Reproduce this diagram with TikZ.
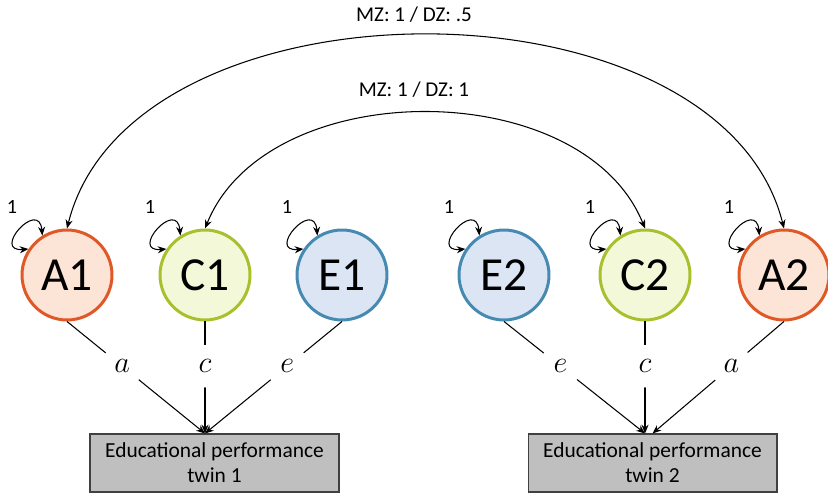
\documentclass[tikz,border=0pt]{standalone}
\usepackage{fontspec}
\setmainfont{Carlito}
\usetikzlibrary{arrows.meta}
\definecolor{aline}{RGB}{224,88,38}
\definecolor{afill}{RGB}{252,228,214}
\definecolor{cline}{RGB}{166,193,45}
\definecolor{cfill}{RGB}{243,248,216}
\definecolor{eline}{RGB}{70,138,178}
\definecolor{efill}{RGB}{219,229,244}
\definecolor{boxfill}{RGB}{191,191,191}
\begin{document}
\begin{tikzpicture}[x=0.02cm, y=0.02cm,
    latent/.style={circle, line width=1.7pt, minimum size=1.8cm, inner sep=0pt, font=\fontsize{27}{27}\selectfont},
    afac/.style={latent, draw=aline, fill=afill},
    cfac/.style={latent, draw=cline, fill=cfill},
    efac/.style={latent, draw=eline, fill=efill},
    obs/.style={rectangle, draw=black!75, fill=boxfill, line width=0.6pt, minimum width=4.98cm, minimum height=1.16cm, align=center, font=\fontsize{12.2}{14.2}\selectfont},
    pth/.style={-{Stealth[length=5pt,width=4pt]}, line width=0.6pt},
    cov/.style={{Stealth[length=5pt,width=4pt]}-{Stealth[length=5pt,width=4pt]}, line width=0.6pt},
    coef/.style={circle, fill=white, inner sep=0pt, minimum size=0.85cm, font=\LARGE},
    lbl/.style={font=\fontsize{12}{14}\selectfont}]
    \useasboundingbox (0,0) rectangle (828,493);
    % latent factors
    \node (A1) at (67,218) [afac] {A1};
    \node (C1) at (205,218) [cfac] {C1};
    \node (E1) at (342,218) [efac] {E1};
    \node (E2) at (504,218) [efac] {E2};
    \node (C2) at (645,218) [cfac] {C2};
    \node (A2) at (784,218) [afac] {A2};
    % observed
    \node (box1) at (214.5,30) [obs] {Educational performance\\twin 1};
    \node (box2) at (652.5,30) [obs] {Educational performance\\twin 2};
    % variances
    \foreach \n in {A1,C1,E1,E2,C2,A2} {
        \draw[cov] (\n.122) to[out=95, in=185, looseness=5] (\n.146);
        \path (\n.center) ++(-55,68) node (v\n) [font=\fontsize{11.5}{12}\selectfont] {1};
    }
    % covariances
    \draw[cov] (A1.north) to[out=76, in=104, looseness=0.95] (A2.north);
    \draw[cov] (C1.north) to[out=68, in=112, looseness=0.97] (C2.north);
    \node (mzdz5) at (414,478) [lbl] {MZ: 1 / DZ: .5};
    \node (mzdz1) at (414,403) [lbl] {MZ: 1 / DZ: 1};
    % paths
    \draw[pth] (A1.south) -- node[coef, pos=0.4] (pa1) {$a$} (C1 |- box1.north);
    \draw[pth] (C1.south) -- node[coef, pos=0.4] (pc1) {$c$} (C1 |- box1.north);
    \draw[pth] (E1.south) -- node[coef, pos=0.4] (pe1) {$e$} (C1 |- box1.north);
    \draw[pth] (E2.south) -- node[coef, pos=0.4] (pe2) {$e$} (C2 |- box2.north);
    \draw[pth] (C2.south) -- node[coef, pos=0.4] (pc2) {$c$} (C2 |- box2.north);
    \draw[pth] (A2.south) -- node[coef, pos=0.4] (pa2) {$a$} (box2.north);
\end{tikzpicture}
\end{document}
